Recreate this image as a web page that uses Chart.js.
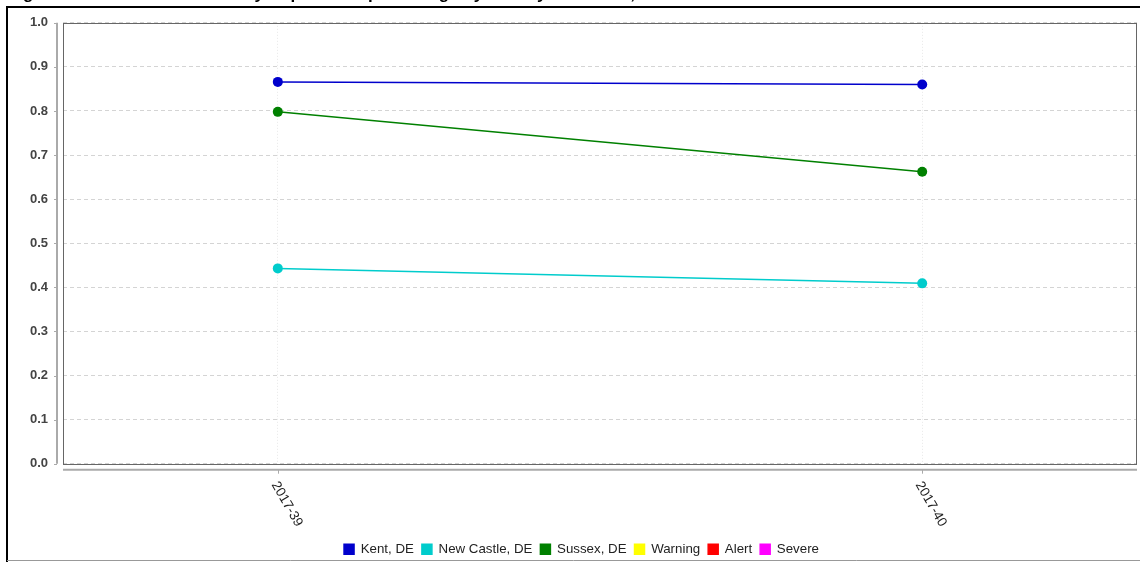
<!DOCTYPE html>
<html><head><meta charset="utf-8">
<script src="https://cdn.jsdelivr.net/npm/chart.js@4/dist/chart.umd.min.js"></script>
<style>html,body{margin:0;padding:0;background:#fff;overflow:hidden}#wrap{width:1140px;height:562px;position:relative}</style>
</head><body><div id="wrap"><canvas id="c" width="1140" height="562"></canvas></div>
<script>
const titleText = 'Figure 2. Total ED Visits Weekly Department percentage by County and Week, Delaware';
const weeks = ['2017-39', '2017-40'];
const kent = [0.866, 0.860];
const newCastle = [0.443, 0.409];
const sussex = [0.798, 0.662];
const seriesNames = ['Kent, DE', 'New Castle, DE', 'Sussex, DE', 'Warning', 'Alert', 'Severe'];
const seriesColors = ['#0000cc', '#00cccc', '#008000', '#ffff00', '#ff0000', '#ff00ff'];
const seriesValues = [kent, newCastle, sussex, [], [], []];
const yMin = 0, yMax = 1.0, yStep = 0.1;

const datasets = seriesNames.map((name, k) => ({
  label: name,
  data: seriesValues[k].map((v, i) => ({x: i, y: v})),
  borderColor: seriesColors[k],
  backgroundColor: seriesColors[k],
  borderWidth: 1.5,
  pointRadius: 5,
  pointHoverRadius: 5,
  pointBorderWidth: 0,
  pointBackgroundColor: seriesColors[k],
  tension: 0
}));

const FONT = 'Arial, "Liberation Sans", sans-serif';

const decor = {
  id: 'decor',
  afterLayout(chart) {
    if (chart.legend) { chart.legend.left += 13; chart.legend.right += 13; }
  },
  beforeDraw(chart) {
    const ctx = chart.ctx;
    ctx.save();
    ctx.fillStyle = '#fff';
    ctx.fillRect(0, 0, chart.width, chart.height);
    // title (mostly cut off at top)
    ctx.fillStyle = '#000';
    ctx.font = 'bold 17px ' + FONT;
    ctx.textAlign = 'left';
    ctx.textBaseline = 'alphabetic';
    ctx.fillText(titleText, 8, -0.8);
    // outer frame
    ctx.strokeStyle = '#000';
    ctx.lineWidth = 2;
    ctx.beginPath();
    ctx.moveTo(7, 562);
    ctx.lineTo(7, 7);
    ctx.lineTo(1142, 7);
    ctx.stroke();
    ctx.strokeStyle = '#999';
    ctx.lineWidth = 1;
    ctx.beginPath();
    ctx.moveTo(7, 560.5);
    ctx.lineTo(1140, 560.5);
    ctx.stroke();
    ctx.restore();
  },
  afterDraw(chart) {
    const ctx = chart.ctx;
    const a = chart.chartArea;
    const xs = chart.scales.x, ys = chart.scales.y;
    ctx.save();
    // plot border
    ctx.strokeStyle = '#666';
    ctx.lineWidth = 1;
    ctx.strokeRect(Math.round(a.left) + 0.5, Math.round(a.top) + 0.5, Math.round(a.right - a.left) - 1, Math.round(a.bottom - a.top));
    // y axis line (offset)
    ctx.strokeStyle = '#aaa';
    ctx.lineWidth = 2;
    ctx.beginPath();
    ctx.moveTo(a.left - 6, a.top);
    ctx.lineTo(a.left - 6, a.bottom);
    ctx.stroke();
    ctx.lineWidth = 1;
    ys.ticks.forEach(t => {
      const y = Math.round(ys.getPixelForValue(t.value)) + 0.5;
      ctx.beginPath();
      ctx.moveTo(a.left - 9, y);
      ctx.lineTo(a.left - 6, y);
      ctx.stroke();
    });
    // x axis line (offset)
    ctx.lineWidth = 2;
    ctx.beginPath();
    ctx.moveTo(a.left, a.bottom + 6);
    ctx.lineTo(a.right, a.bottom + 6);
    ctx.stroke();
    ctx.lineWidth = 1;
    ctx.fillStyle = '#222';
    ctx.font = '13.5px ' + FONT;
    ctx.textAlign = 'left';
    ctx.textBaseline = 'middle';
    weeks.forEach((w, i) => {
      const x = Math.round(xs.getPixelForValue(i)) + 0.5;
      ctx.beginPath();
      ctx.moveTo(x, a.bottom + 6);
      ctx.lineTo(x, a.bottom + 10);
      ctx.stroke();
      ctx.save();
      ctx.translate(x - 4, a.bottom + 19);
      ctx.rotate(Math.PI / 3);
      ctx.fillText(w, 0, 0);
      ctx.restore();
    });
    ctx.restore();
  }
};

new Chart(document.getElementById('c'), {
  type: 'line',
  data: { datasets },
  plugins: [decor],
  options: {
    responsive: false,
    animation: false,
    devicePixelRatio: 1,
    layout: { autoPadding: false, padding: { left: 0, top: 21, right: 3, bottom: -4 } },
    plugins: {
      title: { display: false },
      tooltip: { enabled: false },
      legend: {
        display: true,
        position: 'bottom',
        labels: {
          boxWidth: 10,
          boxHeight: 10,
          padding: 8,
          color: '#222',
          font: { family: FONT, size: 13.3 }
        }
      }
    },
    scales: {
      x: {
        type: 'linear',
        min: -1 / 3,
        max: 4 / 3,
        afterBuildTicks: s => { s.ticks = weeks.map((_, i) => ({ value: i })); },
        afterFit: s => { s.height = 71; },
        ticks: { display: false },
        grid: { color: '#e8e8e8', drawTicks: false, lineWidth: 1 },
        border: { display: false, dash: [1, 2] }
      },
      y: {
        min: yMin,
        max: yMax,
        afterFit: s => { s.width = 63; },
        ticks: {
          stepSize: yStep,
          padding: 15,
          color: '#444',
          font: { family: FONT, size: 13, weight: 'bold' },
          callback: v => Number(v).toFixed(1)
        },
        grid: { color: '#d4d4d4', drawTicks: false, lineWidth: 1 },
        border: { display: false, dash: [4, 3] }
      }
    }
  }
});
</script>
</body></html>
